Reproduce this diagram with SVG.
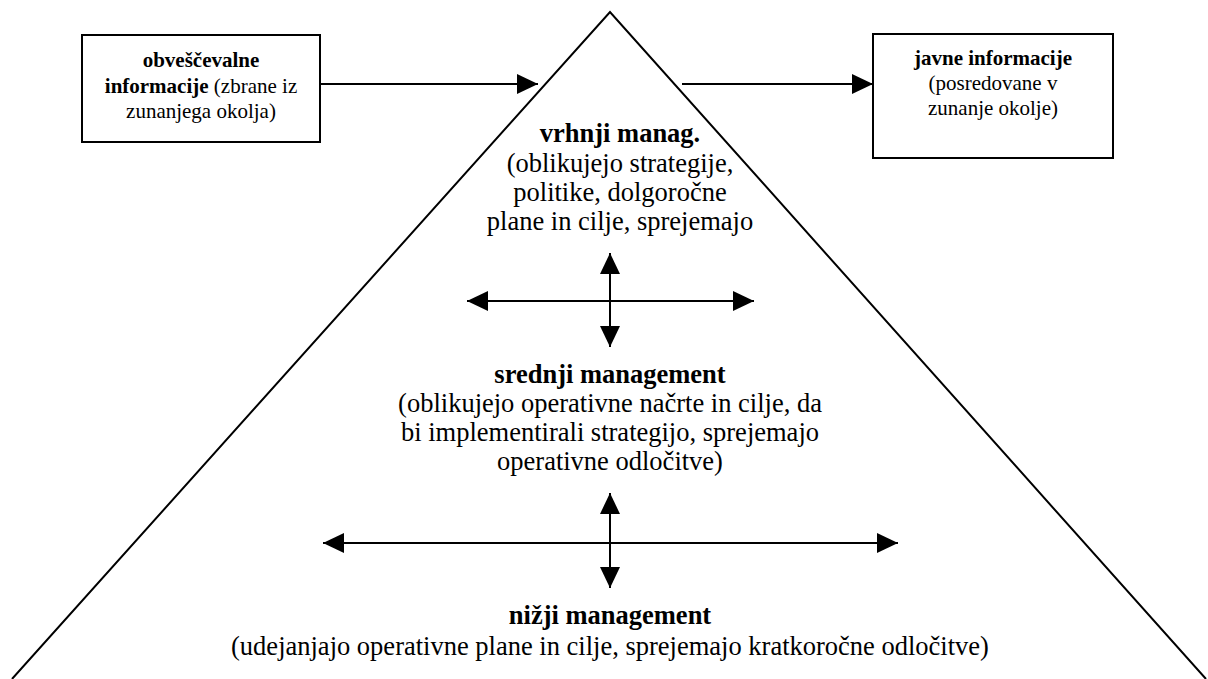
<svg xmlns="http://www.w3.org/2000/svg" width="1208" height="679" viewBox="0 0 1208 679">
<style>
text{font-family:"Liberation Serif","Times New Roman",serif;fill:#000;text-anchor:middle}
.s{font-size:21px}
.m{font-size:26.5px}
.b{font-weight:bold}
.ln{stroke:#000;stroke-width:2;fill:none}
.box{stroke:#000;stroke-width:2;fill:#fff}
</style>
<defs>
<marker id="ah" viewBox="0 0 21 20" refX="21" refY="10" markerWidth="21" markerHeight="20" markerUnits="userSpaceOnUse" orient="auto-start-reverse">
<path d="M0,0 L21,10 L0,20 Z" fill="#000"/>
</marker>
</defs>
<rect width="1208" height="679" fill="#fff"/>
<g id="pyramid">
<polyline class="ln" points="12,679 610,12 1206,679"/>
</g>
<g id="node-obvescevalne">
<rect class="box" x="82" y="35" width="238" height="107"/>
<text class="s" x="201" y="67"><tspan class="b">obveščevalne</tspan></text>
<text class="s" x="201" y="93"><tspan class="b">informacije</tspan> (zbrane iz</text>
<text class="s" x="201" y="118">zunanjega okolja)</text>
</g>
<g id="node-javne">
<rect class="box" x="873" y="34" width="240" height="124"/>
<text class="s" x="993" y="65"><tspan class="b">javne informacije</tspan></text>
<text class="s" x="993" y="90">(posredovane v</text>
<text class="s" x="993" y="115">zunanje okolje)</text>
</g>
<g id="node-vrhnji">
<text class="m b" x="620" y="142">vrhnji manag.</text>
<text class="m" x="620" y="172">(oblikujejo strategije,</text>
<text class="m" x="620" y="201">politike, dolgoročne</text>
<text class="m" x="620" y="230">plane in cilje, sprejemajo</text>
</g>
<g id="node-srednji">
<text class="m b" x="610" y="383">srednji management</text>
<text class="m" x="610" y="412">(oblikujejo operativne načrte in cilje, da</text>
<text class="m" x="610" y="441">bi implementirali strategijo, sprejemajo</text>
<text class="m" x="610" y="470">operativne odločitve)</text>
</g>
<g id="node-nizji">
<text class="m b" x="610" y="624">nižji management</text>
<text class="m" x="610" y="655">(udejanjajo operativne plane in cilje, sprejemajo kratkoročne odločitve)</text>
</g>
<g id="connectors">
<line class="ln" x1="320" y1="84" x2="538" y2="84" marker-end="url(#ah)"/>
<line class="ln" x1="682" y1="84" x2="873" y2="84" marker-end="url(#ah)"/>
<line class="ln" x1="467" y1="301" x2="754" y2="301" marker-start="url(#ah)" marker-end="url(#ah)"/>
<line class="ln" x1="610" y1="253" x2="610" y2="347" marker-start="url(#ah)" marker-end="url(#ah)"/>
<line class="ln" x1="323" y1="543" x2="898" y2="543" marker-start="url(#ah)" marker-end="url(#ah)"/>
<line class="ln" x1="610" y1="493" x2="610" y2="588" marker-start="url(#ah)" marker-end="url(#ah)"/>
</g>
</svg>
